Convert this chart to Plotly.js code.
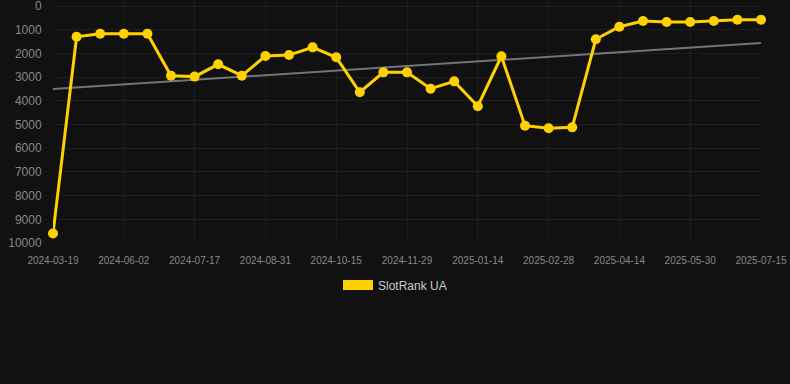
<!DOCTYPE html>
<html>
<head>
<meta charset="utf-8">
<script src="https://cdn.plot.ly/plotly-3.0.1.min.js"></script>
<style>html,body{margin:0;padding:0;background:#111111;}#chart{width:790px;height:384px;}</style>
</head>
<body>
<div id="chart"></div>
<script>
const dates = [
  "2024-03-19","2024-04-13","2024-05-08","2024-06-02","2024-06-17","2024-07-02",
  "2024-07-17","2024-08-01","2024-08-16","2024-08-31","2024-09-15","2024-09-30",
  "2024-10-15","2024-10-30","2024-11-14","2024-11-29","2024-12-14","2024-12-30",
  "2025-01-14","2025-01-29","2025-02-13","2025-02-28","2025-03-15","2025-03-30",
  "2025-04-14","2025-04-29","2025-05-15","2025-05-30","2025-06-14","2025-06-30",
  "2025-07-15"
];
const ranks = [
  9600, 1300, 1170, 1170, 1170, 2940,
  2980, 2460, 2940, 2110, 2070, 1745,
  2165, 3640, 2800, 2800, 3490, 3180,
  4230, 2120, 5050, 5160, 5120, 1405,
  873, 633, 675, 675, 633, 578,
  578
];
const trendEnds = [3500, 1560];
const tickLabels = ["2024-03-19","2024-06-02","2024-07-17","2024-08-31","2024-10-15","2024-11-29","2025-01-14","2025-02-28","2025-04-14","2025-05-30","2025-07-15"];
const yTicks = [0, 1000, 2000, 3000, 4000, 5000, 6000, 7000, 8000, 9000, 10000];
const seriesName = "SlotRank UA";

const gold = "#FFD100";
const traces = [
  {
    x: [dates[0], dates[dates.length-1]], y: trendEnds,
    type: "scatter", mode: "lines",
    line: {color: "rgba(150,150,150,0.75)", width: 2},
    showlegend: false, hoverinfo: "skip"
  },
  {
    x: dates, y: ranks, name: seriesName,
    type: "scatter", mode: "lines+markers",
    line: {color: gold, width: 3},
    marker: {color: gold, size: 10},
    cliponaxis: false,
    showlegend: false
  },
  {
    x: [null], y: [null], name: seriesName,
    type: "scatter", mode: "lines",
    line: {color: gold, width: 10},
    showlegend: true
  }
];
const layout = {
  width: 790, height: 384,
  paper_bgcolor: "#111111", plot_bgcolor: "#111111",
  margin: {l: 53, r: 29, t: 0, b: 141},
  font: {family: "Arial, Liberation Sans, sans-serif", color: "#888888"},
  xaxis: {
    type: "category",
    categoryorder: "array", categoryarray: dates,
    range: [0, dates.length - 1],
    tickmode: "array", tickvals: tickLabels, ticktext: tickLabels,
    showgrid: true, gridcolor: "#1c1c1c", gridwidth: 1,
    zeroline: false, showline: false,
    ticks: "outside", ticklen: 8, tickcolor: "rgba(0,0,0,0)",
    tickfont: {size: 10, color: "#888888"}
  },
  yaxis: {
    range: [10000, -253],
    tickmode: "array", tickvals: yTicks, ticktext: yTicks.map(String),
    showgrid: true, gridcolor: "#1e1e1e", gridwidth: 1,
    zeroline: false, showline: false,
    ticks: "outside", ticklen: 8, tickcolor: "rgba(0,0,0,0)",
    ticklabeloverflow: "allow",
    tickfont: {size: 12, color: "#888888"}
  },
  showlegend: true,
  legend: {
    orientation: "h",
    xref: "container", yref: "container",
    x: 0.5, xanchor: "center",
    y: 1 - 285/384, yanchor: "middle",
    font: {size: 12, color: "#cccccc"},
    bgcolor: "rgba(0,0,0,0)"
  }
};
Plotly.newPlot("chart", traces, layout, {displayModeBar: false, staticPlot: true});
</script>
</body>
</html>
